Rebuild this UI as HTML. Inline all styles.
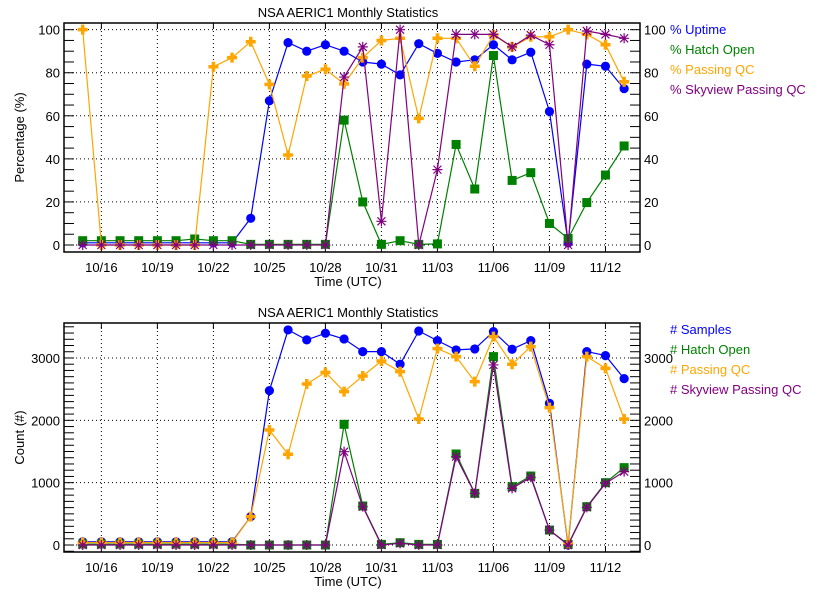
<!DOCTYPE html>
<html><head><meta charset="utf-8"><style>
html,body{margin:0;padding:0;background:#fff;}
svg{display:block;font-family:"Liberation Sans",sans-serif;}
text{font-size:13px;}
</style></head><body>
<svg id="chart" width="840" height="600" xmlns="http://www.w3.org/2000/svg"></svg>
<script>
const dayLabels = ["10/16","10/19","10/22","10/25","10/28","10/31","11/03","11/06","11/09","11/12"];
const labelDays = [1,4,7,10,13,16,19,22,25,28];
const pctTicks = [0,20,40,60,80,100];
const cntTicks = [0,1000,2000,3000];
const uptime = [1,1,1,1,1,1,1,1,1,12.4,67,94,90,93,90,85,84,79,93.5,89,85,86,93,86,89.5,62,1,84,83,72.6];
const hatchPct = [2,2,2,2,2,2,2.8,2,2,0.3,0.3,0.3,0.3,0.3,58,20,0.3,2,0.3,0.5,46.7,26,88,30,33.6,10,3,19.7,32.5,46];
const qcPct = [100,0,0,0,0,0,0,82.8,87,94.4,74.6,41.8,78.5,81.6,74.8,87,95,96,58.8,96,96,83,97.5,92,96.7,96.7,100,97.8,93,75.8];
const skyPct = [0,0,0,0,0,0,0,0,0,0,0,0,0,0,78,92,11,100,0,35,97.8,97.8,97.8,92,97.5,93,0,99.4,97.8,96];
const samples = [53,53,53,53,53,53,53,53,53,455,2476,3450,3290,3396,3305,3102,3102,2899,3433,3278,3129,3145,3423,3140,3278,2273,0,3102,3038,2669];
const qcCnt = [40,40,40,40,40,40,40,40,40,455,1845,1455,2583,2770,2460,2711,2952,2781,2022,3150,3022,2620,3343,2899,3182,2203,27,3022,2834,2022];
const hatchCnt = [15,15,15,15,15,15,15,15,15,0,0,0,0,0,1936,626,10,37,10,10,1460,829,3022,936,1107,240,10,615,1000,1241];
const skyCnt = [0,0,0,0,0,0,0,0,0,0,0,0,0,0,1497,615,0,27,0,0,1417,829,2888,909,1086,240,0,604,989,1177];

const NS="http://www.w3.org/2000/svg";
const svg=document.getElementById('chart');
function mk(tag,attrs,parent){const e=document.createElementNS(NS,tag);for(const k in attrs)e.setAttribute(k,attrs[k]);(parent||svg).appendChild(e);return e;}
const L=64,R=640;
function xs(d){return 82.7+18.67*d;}
const BLUE="#0000ff",GREEN="#008000",ORANGE="#ffa500",PURPLE="#800080";

function marker(g,type,x,y,c){
  if(type==='circle'){mk('circle',{cx:x,cy:y,r:4.6,fill:c},g);}
  else if(type==='square'){mk('rect',{x:x-4.5,y:y-4.5,width:9,height:9,fill:c},g);}
  else if(type==='plus'){mk('path',{d:`M${x-5},${y}H${x+5}M${x},${y-5}V${y+5}`,stroke:c,'stroke-width':3.5,fill:'none'},g);}
  else {mk('path',{d:`M${x-5},${y}H${x+5}M${x},${y-5}V${y+5}M${x-4},${y-4}L${x+4},${y+4}M${x-4},${y+4}L${x+4},${y-4}`,stroke:c,'stroke-width':1.2,fill:'none'},g);}
}

function panel(opt){
  const {top,bot,ymin,ymax,ticks,minor,ylab,series,prefix,legTop,name,tickFmt}=opt;
  const g=mk('g',{});
  
  
  const ys=v=>bot-(v-ymin)/(ymax-ymin)*(bot-top);
  const t=mk('text',{x:348,y:top-6,'text-anchor':'middle','font-size':14},g);t.textContent="NSA AERIC1 Monthly Statistics";
  
  // grid
  ticks.forEach(v=>{if(v>ymin&&v<ymax)mk('line',{x1:L,x2:R,y1:ys(v),y2:ys(v),stroke:'#000','stroke-dasharray':'1,3','stroke-width':1},g);});
  labelDays.forEach(d=>mk('line',{x1:xs(d),x2:xs(d),y1:top,y2:bot,stroke:'#000','stroke-dasharray':'1,3','stroke-width':1},g));
  // minor ticks
  for(let v=Math.ceil(ymin/minor)*minor;v<=ymax;v+=minor){
    mk('line',{x1:L,x2:L+10,y1:ys(v),y2:ys(v),stroke:'#000'},g);
    mk('line',{x1:R-10,x2:R,y1:ys(v),y2:ys(v),stroke:'#000'},g);
  }
  labelDays.forEach(d=>{mk('line',{x1:xs(d),x2:xs(d),y1:bot,y2:bot-6,stroke:'#000'},g);mk('line',{x1:xs(d),x2:xs(d),y1:top,y2:top+6,stroke:'#000'},g);});
  mk('rect',{x:L,y:top,width:R-L,height:bot-top,fill:'none',stroke:'#000','stroke-width':1.5},g);
  ticks.forEach(v=>{
    const a=mk('text',{x:L-4,y:ys(v)+5,'text-anchor':'end'},g);a.textContent=tickFmt(v);
    const b=mk('text',{x:R+4,y:ys(v)+5},g);b.textContent=tickFmt(v);
  });
  dayLabels.forEach((s,i)=>{const a=mk('text',{x:xs(labelDays[i]),y:bot+20,'text-anchor':'middle'},g);a.textContent=s;});
  const xl=mk('text',{x:348,y:bot+34,'text-anchor':'middle'},g);xl.textContent="Time (UTC)";
  
  const yl=mk('text',{x:0,y:0,'text-anchor':'middle',transform:`translate(24,${(top+bot)/2}) rotate(-90)`},g);yl.textContent=ylab;
  
  series.forEach((s,si)=>{
    const sg=mk('g',{},g);
    
    
    const pts=s.data.map((v,i)=>xs(i).toFixed(1)+','+ys(v).toFixed(1)).join(' ');
    mk('polyline',{points:pts,fill:'none',stroke:s.color,'stroke-width':1.2},sg);
    s.data.forEach((v,i)=>marker(sg,s.marker,xs(i),ys(v),s.color));
    const lt=mk('text',{x:670,y:legTop+si*20+5,fill:s.color},g);lt.textContent=prefix+" "+s.label;
    
  });
}
panel({name:'percentage-panel',top:23,bot:252,ymin:-3.25,ymax:103.1,ticks:pctTicks,minor:5,ylab:"Percentage (%)",prefix:"%",legTop:29,tickFmt:v=>String(v),
  series:[{key:'uptime',label:'Uptime',data:uptime,color:BLUE,marker:'circle'},
          {key:'hatch-open',label:'Hatch Open',data:hatchPct,color:GREEN,marker:'square'},
          {key:'passing-qc',label:'Passing QC',data:qcPct,color:ORANGE,marker:'plus'},
          {key:'skyview-qc',label:'Skyview Passing QC',data:skyPct,color:PURPLE,marker:'star'}]});
panel({name:'count-panel',top:323,bot:552,ymin:-112,ymax:3561,ticks:cntTicks,minor:100,ylab:"Count (#)",prefix:"#",legTop:329,tickFmt:v=>String(v),
  series:[{key:'samples',label:'Samples',data:samples,color:BLUE,marker:'circle'},
          {key:'hatch-open-count',label:'Hatch Open',data:hatchCnt,color:GREEN,marker:'square'},
          {key:'passing-qc-count',label:'Passing QC',data:qcCnt,color:ORANGE,marker:'plus'},
          {key:'skyview-qc-count',label:'Skyview Passing QC',data:skyCnt,color:PURPLE,marker:'star'}]});
</script>
</body></html>
